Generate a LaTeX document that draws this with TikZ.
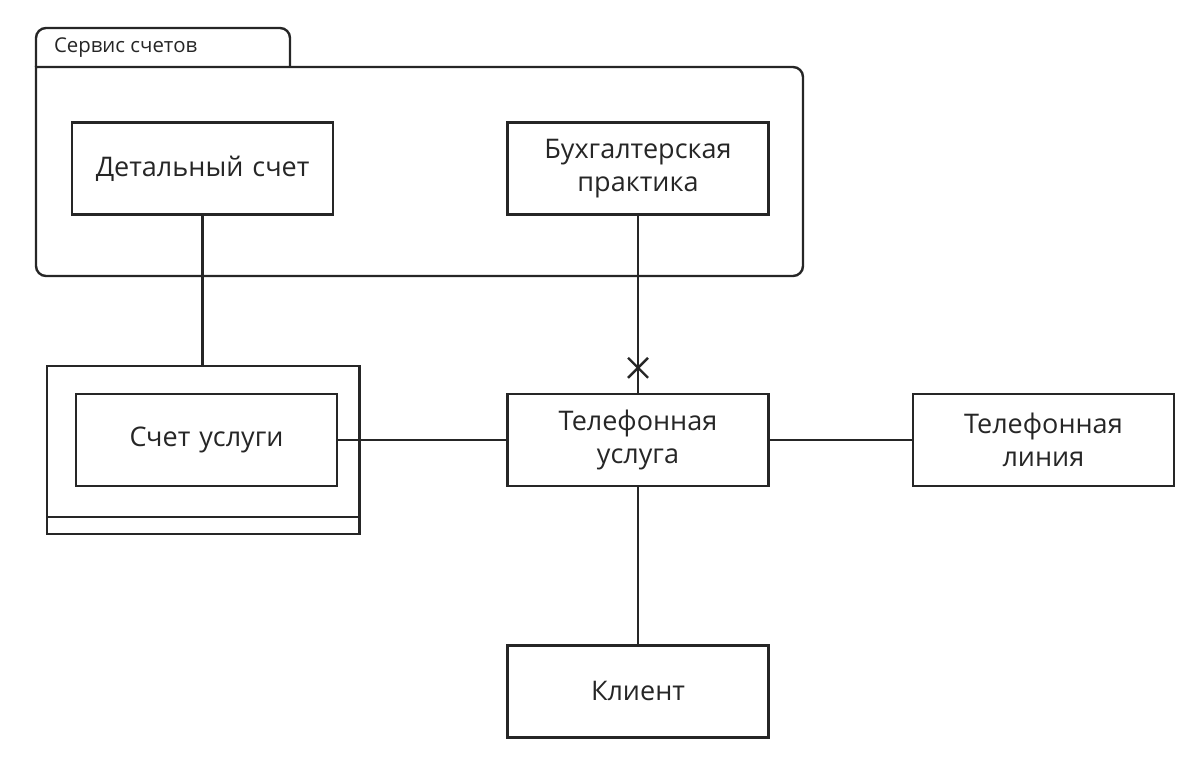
\documentclass[tikz,border=0pt]{standalone}
\usepackage{fontspec}
\setmainfont{Open Sans}
\usetikzlibrary{positioning,calc}

\begin{document}
\begin{tikzpicture}[x=0.5pt, y=-0.5pt,
    entity/.style={rectangle, draw=black!85, text=black!85, text width=120pt, align=center, minimum width=130.5pt, minimum height=46pt, font=\fontsize{13.5}{16.5}\selectfont, line width=1.2pt},
    link/.style={draw=black!85, line width=1.2pt}
]
    \useasboundingbox (0,0) rectangle (1198,759);

    % package frame
    \draw[link, rounded corners=5pt] (36,67) -- (36,28) -- (290,28) -- (290,67);
    \draw[link, line cap=rect, rounded corners=5pt] (36,67) -- (803,67) -- (803,276) -- (36,276) -- (36,67);
    \node[anchor=west, text=black!85, font=\fontsize{10.2}{12}\selectfont] (pkg) at (47,48) {Сервис счетов};

    \node[entity] (tel) at (638,440) {Телефонная\\услуга};
    \node[entity, left=84pt of tel] (acct) {Счет услуги};
    \node[entity, right=71pt of tel] (line) {Телефонная\\линия};
    \node[entity, below=78.5pt of tel] (client) {Клиент};
    \node[entity, above=88.5pt of tel] (buh) {Бухгалтерская\\практика};
    \node[entity, left=86pt of buh] (detail) {Детальный счет};

    % weak entity frame
    \coordinate (wrapNW) at ($(acct.north west)+(-28,-27)$);
    \coordinate (wrapSE) at ($(acct.south east)+(21,47)$);
    \draw[link] (wrapNW) rectangle (wrapSE);
    \draw[link] ($(acct.south west)+(-28,30)$) -- ($(acct.south east)+(21,30)$);

    \draw[link] (detail.south) -- (detail.south |- wrapNW);
    \draw[link] (buh) -- (tel);
    \draw[link] (acct) -- (tel);
    \draw[link] (tel) -- (line);
    \draw[link] (tel) -- (client);

    % cross mark
    \coordinate (cross) at ($(tel.north)+(0,-25)$);
    \draw[link] ($(cross)+(-10,-10)$) -- ($(cross)+(10,10)$);
    \draw[link] ($(cross)+(-10,10)$) -- ($(cross)+(10,-10)$);
\end{tikzpicture}
\end{document}
